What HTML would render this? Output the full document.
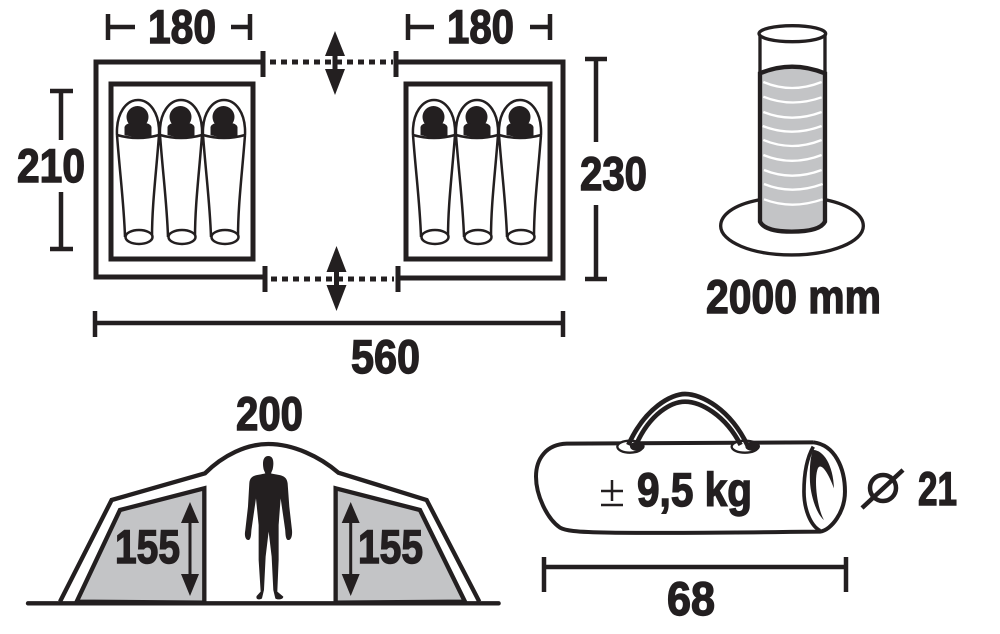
<!DOCTYPE html>
<html><head><meta charset="utf-8"><style>
html,body{margin:0;padding:0;background:#fff}
svg{display:block}
text{font-family:"Liberation Sans",sans-serif;font-weight:bold;fill:#231f20;stroke:#231f20;stroke-width:1.4}
</style></head><body>
<svg width="1000" height="634" viewBox="0 0 1000 634" xmlns="http://www.w3.org/2000/svg">
<defs>
<g id="bag">
<path d="M-21 20 C-22 -3 -11 -15 0 -15 C11 -15 22 -3 21 20" fill="none" stroke="#231f20" stroke-width="2.500"/>
<path d="M-21 20 C-18 60 -14 90 -13 122 M21 20 C18 60 14 90 14 122" fill="none" stroke="#231f20" stroke-width="2.500"/>
<path d="M-21 20 Q0 26 21 20" fill="none" stroke="#231f20" stroke-width="2.500"/>
<circle cx="-0.500" cy="2" r="11" fill="#231f20"/>
<path d="M-13.500 20 L-13.500 12 Q-12 8 -6 8 L6 8 Q12 8 13.500 12 L13.500 21 Q0 24 -13.500 20Z" fill="#231f20"/>
<ellipse cx="1" cy="122" rx="13.500" ry="7" fill="#fff" stroke="#231f20" stroke-width="2.500"/>
</g>
</defs>
<rect width="1000" height="634" fill="#fff"/>

<!-- plan -->
<g fill="none" stroke="#231f20" stroke-width="5">
<path d="M263 62 L96 62 L96 277 L264 277"/>
<path d="M396 62 L563 62 L563 278 L398 278"/>
<rect x="111" y="84" width="142" height="175"/>
<rect x="406" y="84" width="144" height="175"/>
<path d="M263 51V77M396 51V77M265 266V292M398 266V292" stroke-width="5"/>
<path d="M270 62H393M271 279H394" stroke-dasharray="6 5" stroke-width="5"/>
</g>
<use href="#bag" x="138" y="115"/>
<use href="#bag" x="181" y="115"/>
<use href="#bag" x="224" y="115"/>
<use href="#bag" x="434" y="115"/>
<use href="#bag" x="477" y="115"/>
<use href="#bag" x="520" y="115"/>

<g fill="#231f20" stroke="none">
<path d="M335 31 L345 56 L337.500 56 V69 H345 L335 95 L325 69 H332.500 V56 H325Z"/>
<path d="M336.500 246 L346.500 272 L339 272 V285 H346.500 L336.500 311 L326.500 285 H334 V272 H326.500Z"/>
</g>

<!-- dimensions -->
<g fill="none" stroke="#231f20" stroke-width="4.500">
<path d="M108 14V40M108 27H135M231 27H250M250 14V40"/>
<path d="M408 14V40M408 27H434M530 27H550M550 14V40"/>
<path d="M50 91H73M61 91V140M61 192V249M50 249H73"/>
<path d="M585 59H607M596 59V142M596 205V279M585 279H607"/>
<path d="M95 311V337M95 323H563M563 311V337"/>
<path d="M544 557V592M544 567H846M846 557V592"/>
</g>

<!-- cylinder -->
<g transform="translate(710,20) scale(.3333)" fill="none" stroke="#231f20" stroke-width="10">
<path d="M145 540 C70 555 32 585 32 618 C32 665 125 705 245 705 C365 705 460 665 460 618 C460 585 420 555 350 540" stroke-width="10"/>
<path d="M150 160 Q245 120 345 160 V605 Q330 635 245 635 Q165 635 150 605Z" fill="#c3c4c6" stroke-width="13"/>
<path d="M150 40 V160 M345 40 V160" stroke-width="10"/>
<ellipse cx="247" cy="41" rx="100" ry="24" fill="#fff" stroke-width="10"/>
<g stroke="#fff" stroke-width="7">
<path d="M160 186 Q245 222 335 186"/>
<path d="M160 230 Q245 264 335 232"/>
<path d="M160 276 Q245 310 335 276"/>
<path d="M158 318 Q245 352 335 318"/>
<path d="M160 360 Q245 396 335 360"/>
<path d="M160 405 Q245 440 335 405"/>
<path d="M162 450 Q245 484 335 450"/>
<path d="M162 492 Q245 526 338 492"/>
<path d="M162 538 Q245 570 338 538"/>
</g>
</g>

<!-- tent -->
<g transform="translate(20,430) scale(.3333)" stroke="#231f20" stroke-linejoin="miter">
<path d="M120 515 L275 210 L555 130 C610 75 680 42 745 42 C820 42 900 80 955 128 L1220 210 L1378 515" fill="none" stroke-width="13"/>
<path d="M170 515 L300 240 L553 175 V518Z" fill="#c3c4c6" stroke-width="13"/>
<path d="M947 175 L1200 240 L1335 515 L947 518Z" fill="#c3c4c6" stroke-width="13"/>
<path d="M24 520H1436" fill="none" stroke-width="13" stroke-linecap="round"/>
<path d="M745 78 C762 78 762 100 758 118 L753 130 C775 136 800 132 803 160 L808 230 L816 300 C818 320 812 332 803 330 C795 325 797 305 795 295 L782 205 L776 285 L776 390 L772 485 L790 500 C790 510 770 510 766 505 L760 480 L755 380 L746 305 L737 380 L732 480 L726 505 C720 510 706 510 710 498 L722 485 L716 390 L716 285 L708 205 L695 295 C693 305 695 325 687 330 C678 332 672 320 676 300 L684 230 L688 160 C690 132 715 136 736 130 L731 118 C727 100 728 78 745 78Z" fill="#231f20" stroke="none"/>
</g>
<g fill="#231f20" stroke="none">
<path d="M190 502 L199 523 L191.500 523 V574 H199 L190 596 L181 574 H188.500 V523 H181Z"/>
<path d="M350.700 502 L359.700 523 L352.200 523 V574 H359.700 L350.700 596 L341.700 574 H349.200 V523 H341.700Z"/>
</g>

<!-- carry bag -->
<g transform="translate(530,385) scale(.3333)" fill="none" stroke="#231f20" stroke-width="11">
<path d="M850 172 L110 176 C50 178 18 220 18 275 C18 330 50 400 90 428 C120 445 200 447 870 440 C905 435 945 380 945 320 C945 250 915 180 850 172" stroke-width="12"/>
<path d="M850 185 C830 220 822 270 822 320 C822 370 840 420 870 437" stroke-width="11"/>
<path d="M850 195 C880 195 910 240 912 310 C890 250 868 230 862 255 C852 290 862 370 882 405 C858 385 842 330 840 290 C838 245 842 210 850 195Z" fill="#231f20" stroke="none"/>
<ellipse cx="300" cy="185" rx="38" ry="18" fill="#fff" stroke-width="7"/>
<ellipse cx="645" cy="185" rx="40" ry="18" fill="#fff" stroke-width="7"/>
<path d="M295 180 C345 68 425 27 465 27 C515 27 600 72 652 180" stroke-width="14"/>
<path d="M318 180 C360 85 425 50 465 50 C510 50 585 88 632 180" stroke-width="14"/>
<ellipse cx="322" cy="184" rx="22" ry="14" fill="#231f20" stroke="none"/>
<ellipse cx="668" cy="184" rx="22" ry="14" fill="#231f20" stroke="none"/>
</g>

<g font-size="47">
<text x="148" y="43" textLength="68" lengthAdjust="spacingAndGlyphs">180</text>
<text x="447" y="43" textLength="67" lengthAdjust="spacingAndGlyphs">180</text>
<text x="17" y="182" textLength="68" lengthAdjust="spacingAndGlyphs">210</text>
<text x="580" y="190" textLength="67" lengthAdjust="spacingAndGlyphs">230</text>
<text x="351" y="373" textLength="69" lengthAdjust="spacingAndGlyphs">560</text>
<text x="706" y="313" textLength="175" lengthAdjust="spacingAndGlyphs">2000 mm</text>
<text x="236" y="430" textLength="67" lengthAdjust="spacingAndGlyphs">200</text>
<text x="115" y="563" textLength="65" lengthAdjust="spacingAndGlyphs">155</text>
<text x="358" y="563" textLength="65" lengthAdjust="spacingAndGlyphs">155</text>
<text x="637" y="506" textLength="115" lengthAdjust="spacingAndGlyphs">9,5 kg</text>
<text x="667" y="615" textLength="48" lengthAdjust="spacingAndGlyphs">68</text>
<text x="918" y="505" textLength="39" lengthAdjust="spacingAndGlyphs">21</text>
</g>
<path d="M601 491H623M612 480V501M601 505H623" fill="none" stroke="#231f20" stroke-width="2.500"/>
<g fill="none" stroke="#231f20" stroke-width="4.500">
<circle cx="883" cy="488" r="13"/>
<path d="M862 508L903 470"/>
</g>
</svg>
</body></html>
